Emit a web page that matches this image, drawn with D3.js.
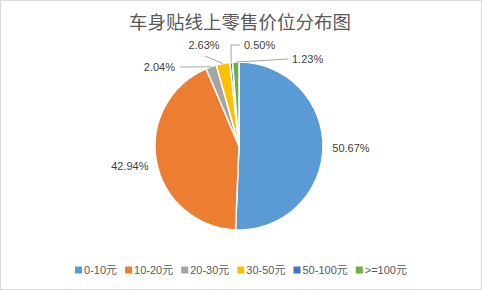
<!DOCTYPE html>
<html><head><meta charset="utf-8">
<script src="https://cdn.jsdelivr.net/npm/d3@7"></script>
<style>body{margin:0;background:#fff}svg{display:block}</style>
</head><body><svg id="c" width="482" height="290"></svg>
<script>
const categories = ["0-10元","10-20元","20-30元","30-50元","50-100元",">=100元"];
const values = [50.67, 42.94, 2.04, 2.63, 0.50, 1.23];
const labels = ["50.67%","42.94%","2.04%","2.63%","0.50%","1.23%"];
const colors = ["#5B9BD5","#ED7D31","#A5A5A5","#FFC000","#4472C4","#70AD47"];
const title = "车身贴线上零售价位分布图";

const W=482,H=290, cx=239, cy=146, r=84;
const svg=d3.select("#c");
svg.append("rect").attr("x",0.5).attr("y",0.5).attr("width",W-1).attr("height",H-1)
  .attr("fill","#fff").attr("stroke","#D9D9D9");
svg.append("text").attr("x",240).attr("y",29).attr("text-anchor","middle")
  .attr("font-family","'Noto Sans CJK SC',sans-serif").attr("font-size",18.5).attr("fill","#595959").text(title);

const data = values.map((v,i)=>({v,i}));
const pie = d3.pie().value(d=>d.v).sort(null);
const arcs = pie(data);
const arc = d3.arc().innerRadius(0).outerRadius(r);
const g = svg.append("g").attr("transform",`translate(${cx},${cy})`);
g.selectAll("path").data(arcs).join("path").attr("d",arc)
  .attr("fill",d=>colors[d.data.i]).attr("stroke","#fff").attr("stroke-width",1.5).attr("stroke-linejoin","round");

const font="'Liberation Sans','Noto Sans CJK SC',sans-serif";
const mid = d=>(d.startAngle+d.endAngle)/2;
const pt = (a,R)=>[Math.sin(a)*R, -Math.cos(a)*R];
// label layout: [text anchor point relative offsets], leader path
const layout = [
  {type:"plain", R:112},
  {type:"plain", R:111},
  {type:"leader", elbow:[-57,-79], end:[-59,-79], text:[-64,-79], anchor:"end"},
  {type:"leader", elbow:[-34,-90], end:[-34,-90], text:[-35,-101], anchor:"middle"},
  {type:"leader", elbow:[-8,-101], end:[1,-101], text:[5,-101], anchor:"start"},
  {type:"leader", elbow:[49,-87], end:[49,-87], text:[53,-87], anchor:"start"}
];
arcs.forEach((d,k)=>{
  const L=layout[k], a=mid(d);
  if(L.type==="plain"){
    const p=pt(a,L.R);
    g.append("text").attr("x",p[0]).attr("y",p[1]).attr("dy","0.35em").attr("text-anchor","middle")
      .attr("font-family",font).attr("font-size",11).attr("fill","#404040").text(labels[k]);
  } else {
    const p=pt(a,r);
    g.append("path").attr("d",d3.line()([p,L.elbow,L.end])).attr("fill","none").attr("stroke","#A6A6A6").attr("stroke-width",1);
    g.append("text").attr("x",L.text[0]).attr("y",L.text[1]).attr("dy","0.35em").attr("text-anchor",L.anchor)
      .attr("font-family",font).attr("font-size",11).attr("fill","#404040").text(labels[k]);
  }
});

// legend
const lg = svg.append("g");
let x=0; const items=[];
categories.forEach((c,i)=>{
  const it=lg.append("g");
  it.append("rect").attr("x",x).attr("y",-3.5).attr("width",7).attr("height",7).attr("fill",colors[i]);
  const t=it.append("text").attr("x",x+9).attr("y",0).attr("dy","0.35em")
    .attr("font-family",font).attr("font-size",11).attr("fill","#595959").text(c);
  x += 9 + t.node().getComputedTextLength() + 8;
});
const total = x-8;
lg.attr("transform",`translate(${241-total/2},270)`);
</script></body></html>
